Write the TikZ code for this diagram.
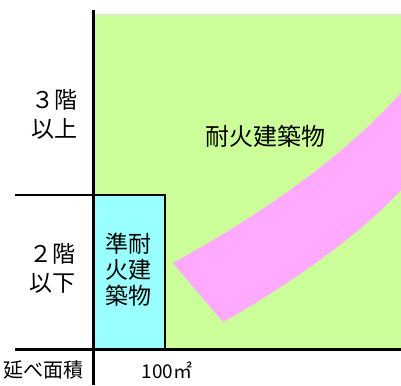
\documentclass[tikz,border=0pt]{standalone}
\usepackage{fontspec}
\setmainfont{Noto Sans CJK JP}
\begin{document}
\begin{tikzpicture}[x=1pt,y=-1pt,
    axisline/.style={line width=3pt},
    floorlabel/.style={align=center,font=\fontsize{23}{29}\selectfont,inner sep=0pt}]
    \useasboundingbox (0,0) rectangle (401,385);
    % zones
    \fill[green!40!lime!35!white,fill={rgb,255:red,204;green,255;blue,153}] (94,15) rectangle (401,349);
    \draw[black!12,line width=0.8pt] (94,14.5) -- (401,14.5);
    \fill[fill={rgb,255:red,255;green,170;blue,255}] (173,263) .. controls (260,215) and (340,160) .. (401,93)
        -- (401,190) .. controls (355,240) and (280,290) .. (223,322) -- cycle;
    \draw[line width=2pt,fill={rgb,255:red,153;green,255;blue,255}] (94,195) rectangle (165,349);
    \draw[line width=2pt] (15,195) -- (94,195);
    % axes
    \draw[axisline] (93,10) -- (93,385);
    \draw[axisline] (15,349) -- (401,349);
    % labels
    \node[floorlabel] (upper) at (54,114) {３階\\以上};
    \node[floorlabel] (lower) at (52,268) {２階\\以下};
    \node[floorlabel,font=\fontsize{23}{26}\selectfont] (semi) at (128,270) {準耐\\火建\\築物};
    \node[inner sep=0pt,font=\fontsize{24}{28}\selectfont] (fireproof) at (265,136) {耐火建築物};
    \node[inner sep=0pt,font=\fontsize{20}{24}\selectfont] (area) at (43,370) {延べ面積};
    \node[inner sep=0pt,font=\fontsize{19}{24}\selectfont] (hundred) at (167,370) {100㎡};
\end{tikzpicture}
\end{document}
